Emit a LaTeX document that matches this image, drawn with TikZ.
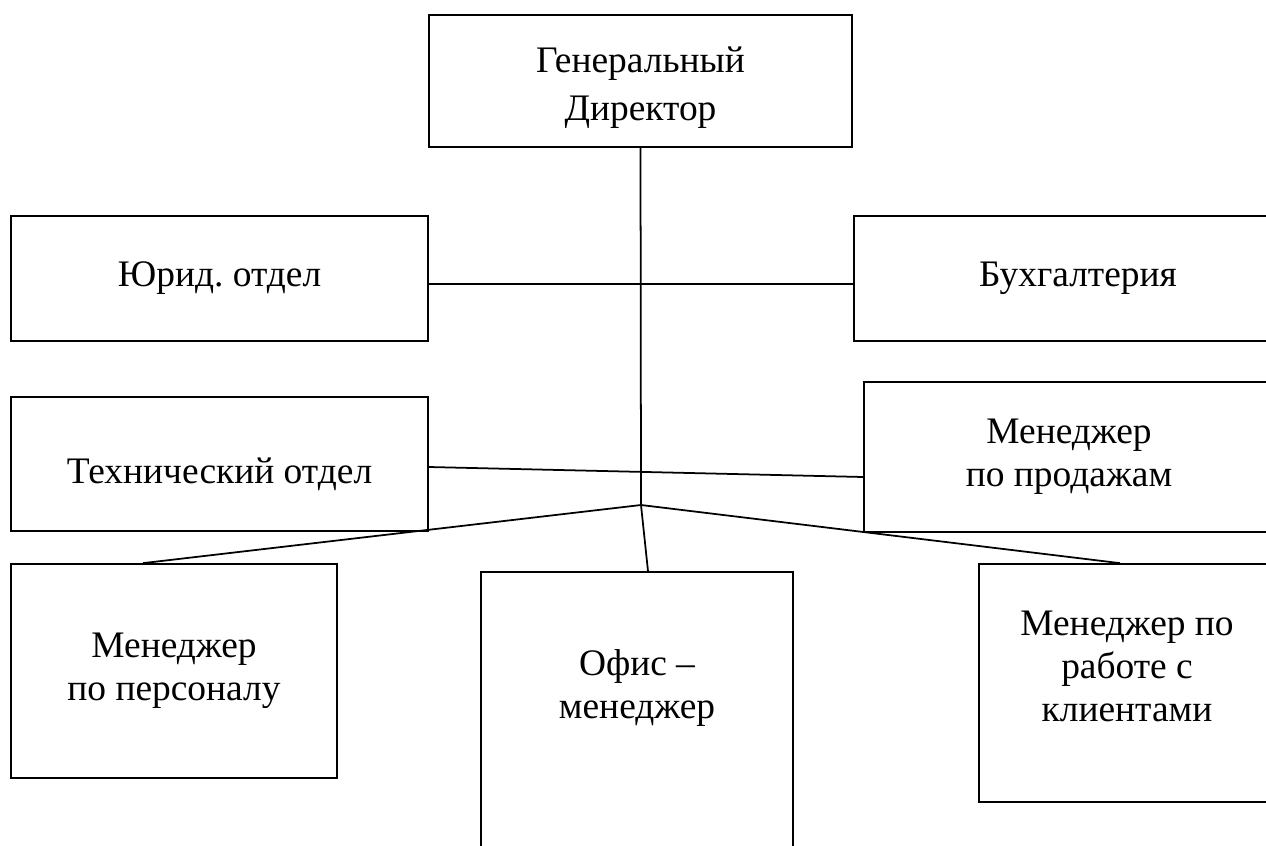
\documentclass[tikz,border=0pt]{standalone}
\usepackage{fontspec}
\setmainfont{Liberation Serif}
\usetikzlibrary{positioning,calc}

\tikzset{
  box/.style={draw, line width=1pt, rectangle, align=center, inner sep=0pt},
  lbl/.style={align=center, inner sep=0pt},
  link/.style={line width=1pt}
}

\begin{document}
\begin{tikzpicture}[x=0.02cm, y=-0.02cm, font=\fontsize{21.3pt}{24.5pt}\selectfont]

  % frame of the picture
  \useasboundingbox (0,0) rectangle (1266,845);
  \clip (0,0) rectangle (1266,845);

  %-------------------------
  % Boxes
  %-------------------------
  \node[box, minimum width=8.46cm, minimum height=2.64cm] (gen) at (640.5,81) {};
  \node[lbl, font=\fontsize{21.3pt}{27.3pt}\selectfont] (gentxt) at (640.5,88)
    {Генеральный\\Директор};

  \node[box, minimum width=8.34cm, minimum height=2.5cm] (yur) at (219.5,278.5)
    {Юрид.\ отдел};
  \node[box, minimum width=8.96cm, minimum height=2.5cm] (buh) at (1078,278.5)
    {Бухгалтерия};

  \node[box, minimum width=8.34cm, minimum height=2.68cm] (tech) at (219.5,464) {};
  \node[lbl] (techtxt) at (219.5,474) {Технический отдел};
  \node[box, minimum width=8.2cm, minimum height=3cm] (sales) at (1069,457)
    {Менеджер\\по продажам};

  \node[box, minimum width=6.52cm, minimum height=4.28cm] (pers) at (174,671)
    {Менеджер\\по персоналу};

  % office box runs off the page
  \node[box, minimum width=6.24cm, minimum height=6.56cm] (ofis) at (637,736) {};
  \node[lbl] (ofistxt) at (637,688) {Офис –\\менеджер};

  \node[box, minimum width=5.92cm, minimum height=4.76cm] (cli) at (1127,683) {};
  \node[lbl] (clitxt) at (1127,666) {Менеджер по\\работе с\\клиентами};

  %-------------------------
  % Connectors
  %-------------------------
  \coordinate (hub) at (641,505);

  \draw[link] (gen.south) -- (hub);
  \draw[link] ([yshift=-0.11cm]yur.east) -- ([yshift=-0.11cm]buh.west);
  \draw[link] ([yshift=-0.06cm]tech.east) -- ([yshift=-0.4cm]sales.west);

  \draw[link] (hub) -- ([xshift=-0.62cm]pers.north);
  \draw[link] (hub) -- ([xshift=0.22cm]ofis.north);
  \draw[link] (hub) -- ([xshift=-0.14cm]cli.north);

\end{tikzpicture}
\end{document}
